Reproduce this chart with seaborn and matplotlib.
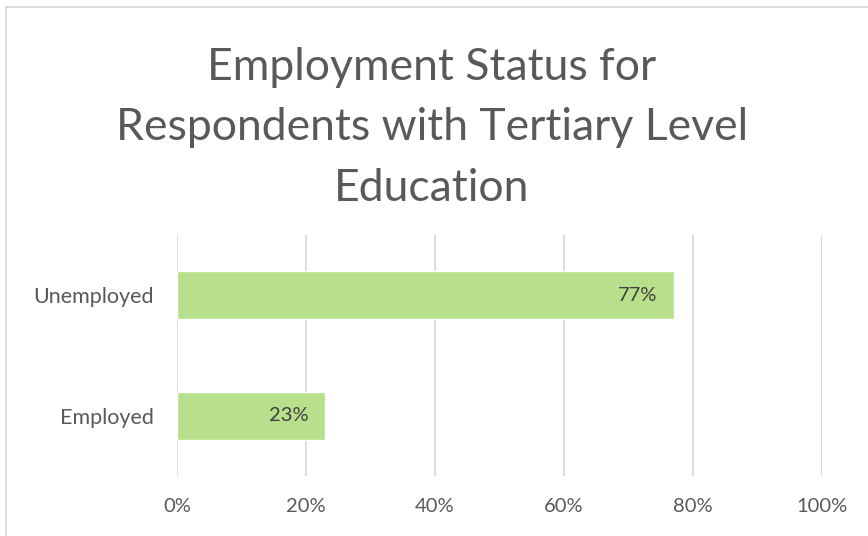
import matplotlib
matplotlib.use("Agg")
import matplotlib.pyplot as plt
from matplotlib.patches import Rectangle
from matplotlib.ticker import FuncFormatter
import seaborn as sns
import pandas as pd

# Employment status shares
categories = ["Unemployed", "Employed"]
shares = [77, 23]
x_ticks = [0, 20, 40, 60, 80, 100]

title = "Employment Status for\nRespondents with Tertiary Level\nEducation"

sns.set_theme(style="white")
plt.rcParams["font.family"] = ["Lato", "DejaVu Sans"]

df = pd.DataFrame({"status": categories, "share": shares})

fig = plt.figure(figsize=(8.68, 5.36), dpi=100)
W, H = 868, 536

# light chart frame
fig.patches.append(Rectangle((6 / W, -0.1), 1.2, (H - 7) / H + 0.1,
                             transform=fig.transFigure, fill=False,
                             edgecolor="#d9d9d9", linewidth=1.3))

ax = fig.add_axes([177 / W, 1 - 476 / H, (822 - 177) / W, (476 - 235) / H])
sns.barplot(data=df, x="share", y="status", order=categories, color="#b8df8c",
            width=0.4, saturation=1, ax=ax)

ax.set_xlim(0, 100)
ax.set_ylim(1.5, -0.5)
ax.set_xticks(x_ticks)
ax.xaxis.set_major_formatter(FuncFormatter(lambda v, p: f"{v:.0f}%"))
ax.grid(axis="x", color="#d9d9d9", linewidth=1.3)
ax.set_axisbelow(True)
for s in ax.spines.values():
    s.set_visible(False)
ax.tick_params(axis="x", length=0, pad=16, labelsize=14.5, labelcolor="#595959")
ax.tick_params(axis="y", length=0, pad=17, labelsize=15.5, labelcolor="#595959")
ax.set_xlabel("")
ax.set_ylabel("")

for i, v in enumerate(shares):
    ax.text(v - 2.6, i, f"{v}%", ha="right", va="center",
            fontsize=14.5, color="#404040")

fig.text(432 / W, 1 - 128 / H, title, ha="center", va="center",
         fontsize=32, color="#595959", linespacing=1.6)

fig.savefig("out.png", dpi=100)
